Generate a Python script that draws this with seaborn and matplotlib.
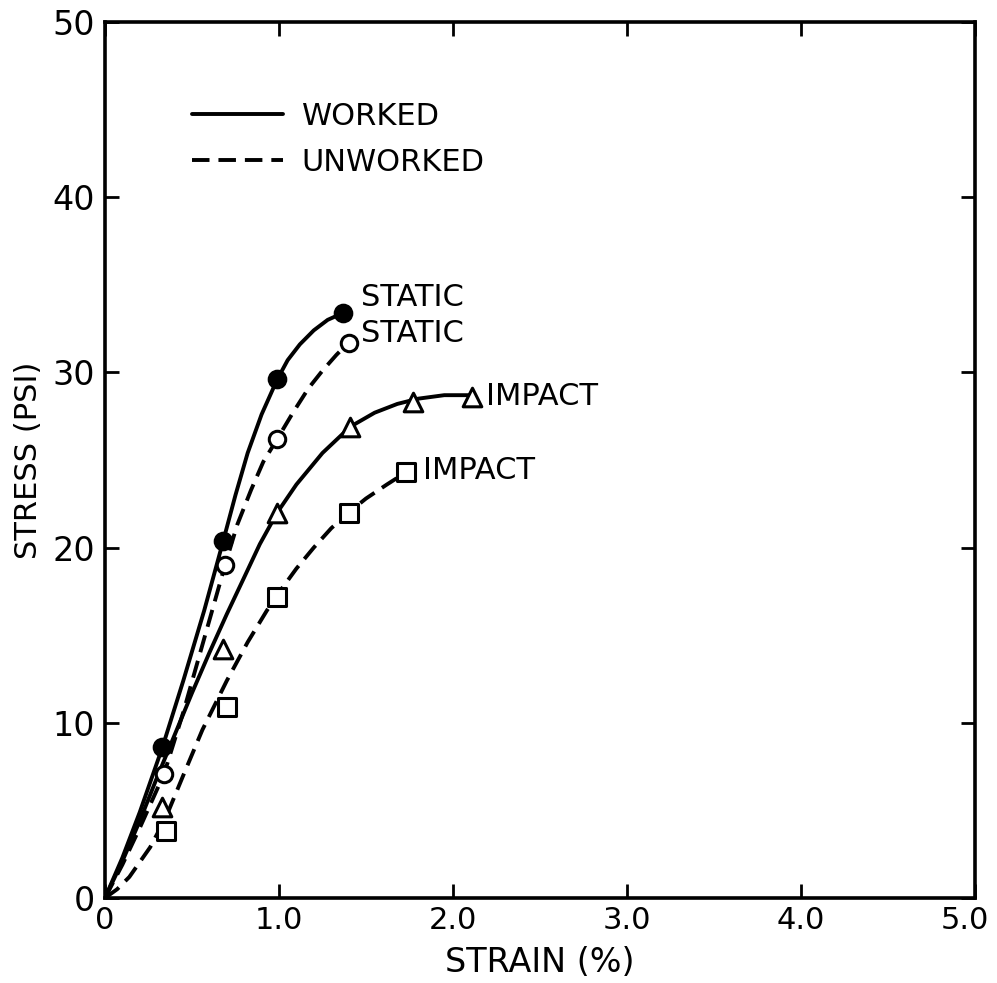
import matplotlib
matplotlib.use("Agg")
import matplotlib.pyplot as plt
import matplotlib.transforms as mtransforms
from matplotlib.lines import Line2D
import seaborn as sns

# ---- measured marker data (strain %, stress psi) ----
ws_x = [0.33, 0.68, 0.99, 1.37]          # worked, static (filled circles)
ws_y = [8.6, 20.4, 29.6, 33.4]
us_x = [0.34, 0.69, 0.99, 1.40]          # unworked, static (open circles)
us_y = [7.1, 19.0, 26.2, 31.7]
wi_x = [0.33, 0.68, 0.99, 1.41, 1.77, 2.11]   # worked, impact (triangles)
wi_y = [5.2, 14.2, 22.0, 26.9, 28.3, 28.6]
ui_x = [0.35, 0.70, 0.99, 1.40, 1.73]         # unworked, impact (squares)
ui_y = [3.8, 10.9, 17.2, 22.0, 24.3]

# ---- hand-drawn fitted curves ----
ws_cx = [0, 0.1, 0.2, 0.33, 0.45, 0.57, 0.68, 0.75, 0.82, 0.9, 0.99, 1.05, 1.12, 1.2, 1.28, 1.37]
ws_cy = [0, 2.3, 4.9, 8.6, 12.4, 16.4, 20.4, 23.0, 25.4, 27.6, 29.6, 30.7, 31.6, 32.4, 33.0, 33.4]
us_cx = [0, 0.1, 0.2, 0.34, 0.45, 0.57, 0.69, 0.76, 0.84, 0.91, 0.99, 1.08, 1.17, 1.25, 1.33, 1.40]
us_cy = [0, 1.9, 4.0, 7.1, 10.6, 14.8, 19.0, 21.3, 23.3, 24.9, 26.2, 27.7, 29.1, 30.1, 31.0, 31.7]
wi_cx = [0, 0.1, 0.2, 0.3, 0.4, 0.5, 0.6, 0.7, 0.8, 0.89, 0.99, 1.1, 1.25, 1.41, 1.55, 1.68, 1.8, 1.95, 2.11]
wi_cy = [0, 2.1, 4.4, 6.9, 9.3, 11.7, 14.0, 16.2, 18.3, 20.2, 22.0, 23.6, 25.4, 26.9, 27.7, 28.2, 28.5, 28.7, 28.7]
ui_cx = [0, 0.07, 0.14, 0.26, 0.35, 0.45, 0.56, 0.7, 0.82, 0.93, 0.99, 1.1, 1.2, 1.3, 1.40, 1.5, 1.62, 1.73]
ui_cy = [0, 0.5, 1.2, 2.9, 4.6, 7.0, 9.6, 12.4, 14.6, 16.4, 17.3, 18.8, 20.0, 21.1, 22.0, 22.8, 23.6, 24.3]

x_ticks = [0, 1, 2, 3, 4, 5]
x_labels = ["0", "1.0", "2.0", "3.0", "4.0", "5.0"]
y_ticks = [0, 10, 20, 30, 40, 50]
y_labels = ["0", "10", "20", "30", "40", "50"]

sns.set_style("ticks")
plt.rcParams["font.family"] = ["DejaVu Sans"]
plt.rcParams["text.color"] = "black"
plt.rcParams["axes.labelcolor"] = "black"

fig = plt.figure(figsize=(9.97, 9.83), dpi=100)
ax = fig.add_axes([0.1053, 0.0865, 0.8726, 0.8911])

LW = 2.8
DASH = (0, (4.5, 2.3))
line_kw = dict(sort=False, estimator=None, color="black", lw=LW,
               solid_joinstyle="round", dash_joinstyle="round", ax=ax)

sns.lineplot(x=ws_cx, y=ws_cy, **line_kw)
sns.lineplot(x=us_cx, y=us_cy, linestyle=DASH, **line_kw)
sns.lineplot(x=wi_cx, y=wi_cy, **line_kw)
sns.lineplot(x=ui_cx, y=ui_cy, linestyle=DASH, **line_kw)

sns.scatterplot(x=ws_x, y=ws_y, marker="o", s=160, color="black", edgecolor="black", linewidth=1.5, zorder=5, ax=ax)
sns.scatterplot(x=us_x, y=us_y, marker="o", s=140, color="white", edgecolor="black", linewidth=2.2, zorder=5, ax=ax)
sns.scatterplot(x=wi_x, y=wi_y, marker="^", s=180, color="white", edgecolor="black", linewidth=2.2, zorder=5, ax=ax)
sns.scatterplot(x=ui_x, y=ui_y, marker="s", s=160, color="white", edgecolor="black", linewidth=2.2, zorder=5, ax=ax)

ax.set_xlim(0, 5)
ax.set_ylim(0, 50)
ax.set_xticks(x_ticks)
ax.set_xticklabels(x_labels)
ax.set_yticks(y_ticks)
ax.set_yticklabels(y_labels)
ax.tick_params(direction="in", length=10, width=2, labelsize=24, top=True, right=True,
               colors="black")
ax.tick_params(axis="x", labelsize=22, pad=6)
ax.tick_params(axis="y", pad=7)
for sp in ax.spines.values():
    sp.set_linewidth(2.6)
    sp.set_color("black")
ax.grid(False)

# keep the last x tick label inside the figure
last = ax.get_xticklabels()[-1]
last.set_transform(last.get_transform() + mtransforms.ScaledTranslation(-10 / 100, 0, fig.dpi_scale_trans))

ax.set_xlabel("STRAIN (%)", fontsize=24, labelpad=8)
ax.set_ylabel("STRESS (PSI)", fontsize=22, labelpad=7)

fs = 22
ax.text(1.47, 34.3, "STATIC", fontsize=fs, va="center", ha="left")
ax.text(1.47, 32.2, "STATIC", fontsize=fs, va="center", ha="left")
ax.text(2.19, 28.6, "IMPACT", fontsize=fs, va="center", ha="left")
ax.text(1.83, 24.4, "IMPACT", fontsize=fs, va="center", ha="left")

handles = [Line2D([], [], color="black", lw=LW),
           Line2D([], [], color="black", lw=LW, linestyle=DASH)]
ax.legend(handles, ["WORKED", "UNWORKED"], loc="upper left", bbox_to_anchor=(0.068, 0.94),
          frameon=False, fontsize=fs, handlelength=3.0, handletextpad=0.6, labelspacing=0.55)

fig.savefig("out.png", dpi=100, facecolor="white")
